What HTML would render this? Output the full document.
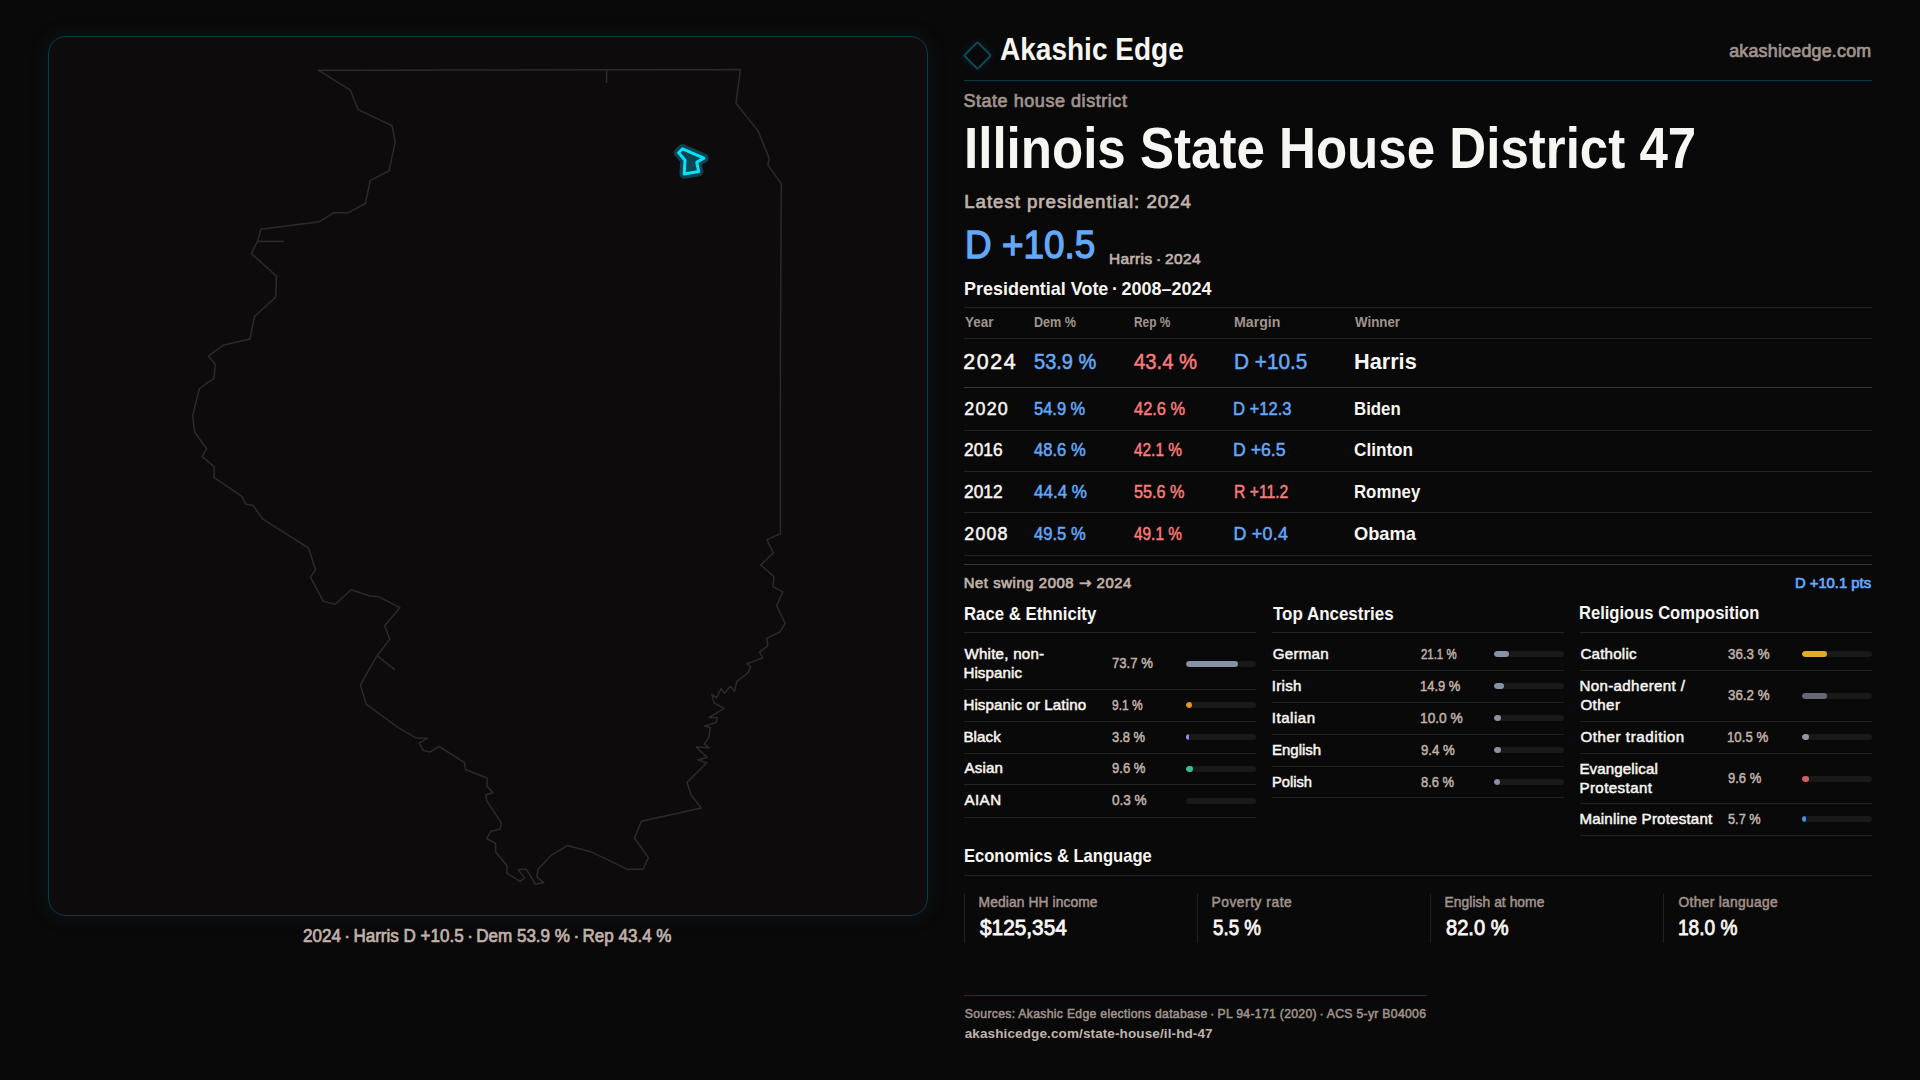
<!DOCTYPE html>
<html lang="en"><head><meta charset="utf-8"><title>Illinois State House District 47 · Akashic Edge</title>
<style>
html,body{margin:0;padding:0}
body{width:1920px;height:1080px;overflow:hidden;background:#0a0909;position:relative;font-family:"Liberation Sans",Arial,sans-serif}
.panel{position:absolute;left:48px;top:36px;width:880px;height:880px;box-sizing:border-box;border:1px solid #083c48;border-radius:18px;background:#0d0b0c;box-shadow:0 0 18px 2px rgba(10,70,90,0.18)}
.map{position:absolute;left:-1px;top:-1px;overflow:visible}
.t{position:absolute;margin:0;white-space:nowrap;transform-origin:0 0}
.l{position:absolute}
.bt{position:absolute;border-radius:3px;overflow:hidden}
.bf{height:100%;border-radius:3px}
.logo{position:absolute;left:966.85px;top:44.65px;width:17px;height:17px;border:2.2px solid #0c4b58;border-radius:2.5px;transform:rotate(45deg);box-shadow:0 0 8px rgba(10,90,110,0.25)}
</style></head><body>
<aside class="mapcol">
<div class="panel"><svg class="map" width="880" height="880" viewBox="48 36 880 880" aria-label="Map of Illinois with State House District 47 highlighted">
<g fill="none" stroke="#2e2a2a" stroke-width="1.5" stroke-linejoin="round"><polygon points="318.2,70.2 740.4,69.5 736.0,103.2 758.0,130.9 769.2,158.4 767.9,165.4 781.3,183.6 780.5,330 780.4,533.8 766.7,539.6 773.3,552.9 760.7,564.9 774.0,576.7 772.9,586.7 782.9,591.8 776.7,605.6 785.1,623.3 780.0,631.8 766.7,638.4 767.8,645.6 759.6,652.2 762.7,658.1 746.8,663.8 750.7,666.6 748.4,672.4 736.8,681.7 734.5,690.9 730.3,686.3 724.5,693.3 721.1,688.6 716.4,697.9 711.8,694.4 714.1,703.0 724.1,708.3 709.0,717.6 717.1,717.6 716.4,722.2 704.4,726.1 710.2,727.5 709.0,737.2 704.4,744.2 709.0,747.7 696.3,747.0 707.2,757.6 697.4,759.9 706.7,762.7 687.0,782.4 691.0,794.7 701.4,808.1 641.4,821.3 634.5,838.0 648.4,857.6 643.0,869.2 626.8,869.2 591.4,851.9 567.3,845.6 551.1,855.3 538.0,869.6 536.8,876.8 543.8,882.6 535.4,884.2 526.1,869.0 517.9,869.6 524.8,878.0 519.9,881.3 506.7,873.1 507.2,866.1 495.6,852.1 495.6,843.4 486.8,838.5 490.7,831.3 499.9,829.2 501.4,822.9 486.8,801.0 485.9,794.7 493.1,792.8 486.8,786.0 487.4,778.2 465.4,769.5 464.5,762.7 439.2,746.5 430.0,752.0 423.2,750.4 419.3,743.2 427.1,738.3 415.8,737.8 398.3,727.6 366.3,704.3 360.4,684.9 377.1,655.7 389.7,639.4 384.7,625.7 399.9,607.7 378.5,596.6 369.9,596.0 351.2,589.8 335.3,604.2 323.2,601.2 310.4,577.1 315.5,569.7 308.5,548.0 262.9,519.2 253.2,505.6 245.8,504.0 241.8,496.4 213.8,477.4 214.2,466.7 202.0,456.6 206.8,448.8 194.8,432.2 192.6,416.1 199.4,388.5 214.0,378.4 215.2,364.2 208.4,356.0 223.2,345.3 250.0,338.9 254.5,316.5 275.7,297.1 276.5,276.1 251.3,253.6 257.5,241.4 260.9,229.2 319.5,221.7 333.8,212.6 347.8,212.9 365.4,203.5 370.1,180.7 389.0,170.9 395.2,142.1 392.1,125.7 358.2,109.6 350.4,90.2"/><line x1="606.6" y1="70.0" x2="606.6" y2="83.2"/><line x1="257.5" y1="241.4" x2="284.3" y2="241.4"/><line x1="377.1" y1="655.7" x2="395.0" y2="669.9"/></g>
<polygon points="678.6,152.8 682.5,148.8 704.0,158.1 696.7,162.3 698.7,171.6 684.2,174.0 685.0,160.2" fill="#0c4452" stroke="#0c4452" stroke-width="9.5" stroke-linejoin="round" opacity="0.95"/>
<polygon points="678.6,152.8 682.5,148.8 704.0,158.1 696.7,162.3 698.7,171.6 684.2,174.0 685.0,160.2" fill="#0c4452" stroke="#08e2f8" stroke-width="3" stroke-linejoin="round"/>
</svg></div>
<div class="t" style="left:303.40px;top:928.00px;font-size:17.73px;line-height:17.73px;font-weight:400;color:#c0b2aa;transform:scaleX(0.9616);-webkit-text-stroke:0.7px currentColor;">2024 · Harris D +10.5 · Dem 53.9 % · Rep 43.4 %</div>
</aside>
<main class="info">
<header class="brand">
<div class="logo"></div>
<div class="l" style="left:964px;top:80px;width:908px;height:1px;background:#083a46"></div>
<div class="t" style="left:1000.33px;top:34.00px;font-size:30.52px;line-height:30.52px;font-weight:700;color:#f8f6f3;transform:scaleX(0.9184);">Akashic Edge</div>
<div class="t" style="left:1729.20px;top:43.00px;font-size:17.88px;line-height:17.88px;font-weight:400;color:#a0948e;letter-spacing:0.214px;-webkit-text-stroke:0.7px currentColor;">akashicedge.com</div>
</header>
<section class="hero">
<div class="t" style="left:963.40px;top:92.00px;font-size:18.02px;line-height:18.02px;font-weight:400;color:#a0948e;letter-spacing:0.542px;-webkit-text-stroke:0.7px currentColor;">State house district</div>
<h1 class="t" style="left:964.34px;top:120.00px;font-size:57.41px;line-height:57.41px;font-weight:700;color:#f8f6f3;transform:scaleX(0.8897);">Illinois State House District 47</h1>
<div class="t" style="left:964.20px;top:193.00px;font-size:18.75px;line-height:18.75px;font-weight:400;color:#c0b2aa;letter-spacing:0.933px;-webkit-text-stroke:0.7px currentColor;">Latest presidential: 2024</div>
<div class="t" style="left:965.01px;top:225.00px;font-size:39.10px;line-height:39.10px;font-weight:400;color:#63a9fb;transform:scaleX(0.9437);-webkit-text-stroke:1.30px currentColor;">D +10.5</div>
<div class="t" style="left:1109.00px;top:251.00px;font-size:15.41px;line-height:15.41px;font-weight:400;color:#c0b2aa;letter-spacing:0.400px;-webkit-text-stroke:0.7px currentColor;">Harris · 2024</div>
<h2 class="t" style="left:963.62px;top:280.00px;font-size:18.31px;line-height:18.31px;font-weight:700;color:#f8f6f3;transform:scaleX(0.9813);">Presidential Vote · 2008–2024</h2>
</section>
<section class="votes">
<div class="l" style="left:964px;top:307px;width:908px;height:1px;background:#242122"></div>
<div class="l" style="left:964px;top:338px;width:908px;height:1px;background:#242122"></div>
<div class="l" style="left:964px;top:387px;width:908px;height:1px;background:#3a3636"></div>
<div class="l" style="left:964px;top:430px;width:908px;height:1px;background:#242122"></div>
<div class="l" style="left:964px;top:471px;width:908px;height:1px;background:#242122"></div>
<div class="l" style="left:964px;top:512px;width:908px;height:1px;background:#242122"></div>
<div class="l" style="left:964px;top:555px;width:908px;height:1px;background:#242122"></div>
<div class="t" style="left:964.60px;top:315.00px;font-size:14.39px;line-height:14.39px;font-weight:700;color:#a0948e;transform:scaleX(0.9367);">Year</div>
<div class="t" style="left:1033.82px;top:315.00px;font-size:14.39px;line-height:14.39px;font-weight:700;color:#a0948e;transform:scaleX(0.8766);">Dem %</div>
<div class="t" style="left:1133.77px;top:315.00px;font-size:14.39px;line-height:14.39px;font-weight:700;color:#a0948e;transform:scaleX(0.8279);">Rep %</div>
<div class="t" style="left:1233.62px;top:315.00px;font-size:14.39px;line-height:14.39px;font-weight:700;color:#a0948e;transform:scaleX(0.9844);">Margin</div>
<div class="t" style="left:1354.70px;top:315.00px;font-size:14.39px;line-height:14.39px;font-weight:700;color:#a0948e;transform:scaleX(0.9265);">Winner</div>
<div class="t" style="left:963.30px;top:352.00px;font-size:21.37px;line-height:21.37px;font-weight:400;color:#f8f6f3;letter-spacing:1.633px;-webkit-text-stroke:0.5px currentColor;">2024</div>
<div class="t" style="left:1033.96px;top:352.00px;font-size:21.37px;line-height:21.37px;font-weight:400;color:#63a9fb;transform:scaleX(0.9369);-webkit-text-stroke:0.5px currentColor;">53.9 %</div>
<div class="t" style="left:1134.40px;top:352.00px;font-size:21.37px;line-height:21.37px;font-weight:400;color:#f77b7b;transform:scaleX(0.9485);-webkit-text-stroke:0.5px currentColor;">43.4 %</div>
<div class="t" style="left:1233.93px;top:352.00px;font-size:21.37px;line-height:21.37px;font-weight:400;color:#63a9fb;transform:scaleX(0.9730);-webkit-text-stroke:0.5px currentColor;">D +10.5</div>
<div class="t" style="left:1354.02px;top:351.00px;font-size:22.09px;line-height:22.09px;font-weight:700;color:#f8f6f3;transform:scaleX(0.9823);">Harris</div>
<div class="t" style="left:964.30px;top:401.00px;font-size:17.88px;line-height:17.88px;font-weight:400;color:#f8f6f3;letter-spacing:1.233px;-webkit-text-stroke:0.5px currentColor;">2020</div>
<div class="t" style="left:1034.30px;top:401.00px;font-size:17.88px;line-height:17.88px;font-weight:400;color:#63a9fb;transform:scaleX(0.9218);-webkit-text-stroke:0.5px currentColor;">54.9 %</div>
<div class="t" style="left:1134.40px;top:401.00px;font-size:17.88px;line-height:17.88px;font-weight:400;color:#f77b7b;transform:scaleX(0.9200);-webkit-text-stroke:0.5px currentColor;">42.6 %</div>
<div class="t" style="left:1233.47px;top:401.00px;font-size:17.88px;line-height:17.88px;font-weight:400;color:#63a9fb;transform:scaleX(0.9274);-webkit-text-stroke:0.5px currentColor;">D +12.3</div>
<div class="t" style="left:1353.60px;top:400.00px;font-size:18.60px;line-height:18.60px;font-weight:700;color:#f8f6f3;transform:scaleX(0.9040);">Biden</div>
<div class="t" style="left:964.30px;top:442.00px;font-size:17.88px;line-height:17.88px;font-weight:400;color:#f8f6f3;transform:scaleX(0.9692);-webkit-text-stroke:0.5px currentColor;">2016</div>
<div class="t" style="left:1034.30px;top:442.00px;font-size:17.88px;line-height:17.88px;font-weight:400;color:#63a9fb;transform:scaleX(0.9291);-webkit-text-stroke:0.5px currentColor;">48.6 %</div>
<div class="t" style="left:1134.40px;top:442.00px;font-size:17.88px;line-height:17.88px;font-weight:400;color:#f77b7b;transform:scaleX(0.8618);-webkit-text-stroke:0.5px currentColor;">42.1 %</div>
<div class="t" style="left:1233.41px;top:442.00px;font-size:17.88px;line-height:17.88px;font-weight:400;color:#63a9fb;transform:scaleX(0.9904);-webkit-text-stroke:0.5px currentColor;">D +6.5</div>
<div class="t" style="left:1353.58px;top:441.00px;font-size:18.60px;line-height:18.60px;font-weight:700;color:#f8f6f3;transform:scaleX(0.9226);">Clinton</div>
<div class="t" style="left:964.30px;top:484.00px;font-size:17.88px;line-height:17.88px;font-weight:400;color:#f8f6f3;transform:scaleX(0.9692);-webkit-text-stroke:0.5px currentColor;">2012</div>
<div class="t" style="left:1034.30px;top:484.00px;font-size:17.88px;line-height:17.88px;font-weight:400;color:#63a9fb;transform:scaleX(0.9527);-webkit-text-stroke:0.5px currentColor;">44.4 %</div>
<div class="t" style="left:1134.40px;top:484.00px;font-size:17.88px;line-height:17.88px;font-weight:400;color:#f77b7b;transform:scaleX(0.9091);-webkit-text-stroke:0.5px currentColor;">55.6 %</div>
<div class="t" style="left:1233.52px;top:484.00px;font-size:17.88px;line-height:17.88px;font-weight:400;color:#f77b7b;transform:scaleX(0.8800);-webkit-text-stroke:0.5px currentColor;">R +11.2</div>
<div class="t" style="left:1353.60px;top:483.00px;font-size:18.60px;line-height:18.60px;font-weight:700;color:#f8f6f3;transform:scaleX(0.9028);">Romney</div>
<div class="t" style="left:964.30px;top:526.00px;font-size:17.88px;line-height:17.88px;font-weight:400;color:#f8f6f3;letter-spacing:1.167px;-webkit-text-stroke:0.5px currentColor;">2008</div>
<div class="t" style="left:1034.30px;top:526.00px;font-size:17.88px;line-height:17.88px;font-weight:400;color:#63a9fb;transform:scaleX(0.9291);-webkit-text-stroke:0.5px currentColor;">49.5 %</div>
<div class="t" style="left:1134.40px;top:526.00px;font-size:17.88px;line-height:17.88px;font-weight:400;color:#f77b7b;transform:scaleX(0.8618);-webkit-text-stroke:0.5px currentColor;">49.1 %</div>
<div class="t" style="left:1233.40px;top:526.00px;font-size:17.88px;line-height:17.88px;font-weight:400;color:#63a9fb;letter-spacing:0.280px;-webkit-text-stroke:0.5px currentColor;">D +0.4</div>
<div class="t" style="left:1353.52px;top:525.00px;font-size:18.60px;line-height:18.60px;font-weight:700;color:#f8f6f3;transform:scaleX(0.9823);">Obama</div>
</section>
<div class="swing">
<div class="l" style="left:964px;top:564px;width:908px;height:1px;background:#3a3636"></div>
<div class="t" style="left:963.70px;top:576.00px;font-size:14.83px;line-height:14.83px;font-weight:400;color:#c0b2aa;letter-spacing:0.590px;-webkit-text-stroke:0.7px currentColor;">Net swing 2008 <span style="font-family:'DejaVu Sans'">→</span> 2024</div>
<div class="t" style="left:1794.90px;top:576.00px;font-size:14.83px;line-height:14.83px;font-weight:400;color:#63a9fb;-webkit-text-stroke:0.7px currentColor;">D +10.1 pts</div>
</div>
<section class="col race">
<div class="l" style="left:964px;top:632px;width:292px;height:1px;background:#242122"></div>
<div class="l" style="left:964px;top:689px;width:292px;height:1px;background:#242122"></div>
<div class="l" style="left:964px;top:721px;width:292px;height:1px;background:#242122"></div>
<div class="l" style="left:964px;top:753px;width:292px;height:1px;background:#242122"></div>
<div class="l" style="left:964px;top:784px;width:292px;height:1px;background:#242122"></div>
<div class="l" style="left:964px;top:817px;width:292px;height:1px;background:#242122"></div>
<div class="bt" style="left:1186px;top:661.0px;width:70px;height:6px;background:#1a191a"><div class="bf" style="width:51.59px;background:#8792a5"></div></div>
<div class="bt" style="left:1186px;top:702.0px;width:70px;height:6px;background:#1a191a"><div class="bf" style="width:6.37px;background:#e6961e"></div></div>
<div class="bt" style="left:1186px;top:734.0px;width:70px;height:6px;background:#1a191a"><div class="bf" style="width:2.66px;background:#a082f0"></div></div>
<div class="bt" style="left:1186px;top:766.0px;width:70px;height:6px;background:#1a191a"><div class="bf" style="width:6.72px;background:#32c391"></div></div>
<div class="bt" style="left:1186px;top:798.0px;width:70px;height:6px;background:#1a191a"></div>
<h2 class="t" style="left:963.78px;top:605.00px;font-size:18.31px;line-height:18.31px;font-weight:700;color:#f8f6f3;transform:scaleX(0.9161);">Race &amp; Ethnicity</h2>
<div class="t" style="left:964.40px;top:646.00px;font-size:15.12px;line-height:15.12px;font-weight:400;color:#f8f6f3;letter-spacing:0.250px;-webkit-text-stroke:0.5px currentColor;">White, non-</div>
<div class="t" style="left:963.40px;top:665.00px;font-size:15.12px;line-height:15.12px;font-weight:400;color:#f8f6f3;letter-spacing:0.086px;-webkit-text-stroke:0.5px currentColor;">Hispanic</div>
<div class="t" style="left:963.40px;top:697.00px;font-size:15.12px;line-height:15.12px;font-weight:400;color:#f8f6f3;letter-spacing:0.100px;-webkit-text-stroke:0.5px currentColor;">Hispanic or Latino</div>
<div class="t" style="left:963.40px;top:729.00px;font-size:15.12px;line-height:15.12px;font-weight:400;color:#f8f6f3;letter-spacing:0.125px;-webkit-text-stroke:0.5px currentColor;">Black</div>
<div class="t" style="left:964.40px;top:760.00px;font-size:15.12px;line-height:15.12px;font-weight:400;color:#f8f6f3;letter-spacing:0.200px;-webkit-text-stroke:0.5px currentColor;">Asian</div>
<div class="t" style="left:964.40px;top:792.00px;font-size:15.12px;line-height:15.12px;font-weight:400;color:#f8f6f3;letter-spacing:0.467px;-webkit-text-stroke:0.5px currentColor;">AIAN</div>
<div class="t" style="left:1112.00px;top:655.00px;font-size:15.12px;line-height:15.12px;font-weight:400;color:#c0b2aa;transform:scaleX(0.8681);-webkit-text-stroke:0.5px currentColor;">73.7 %</div>
<div class="t" style="left:1112.00px;top:697.00px;font-size:15.12px;line-height:15.12px;font-weight:400;color:#c0b2aa;transform:scaleX(0.7949);-webkit-text-stroke:0.5px currentColor;">9.1 %</div>
<div class="t" style="left:1112.00px;top:729.00px;font-size:15.12px;line-height:15.12px;font-weight:400;color:#c0b2aa;transform:scaleX(0.8564);-webkit-text-stroke:0.5px currentColor;">3.8 %</div>
<div class="t" style="left:1112.00px;top:760.00px;font-size:15.12px;line-height:15.12px;font-weight:400;color:#c0b2aa;transform:scaleX(0.8641);-webkit-text-stroke:0.5px currentColor;">9.6 %</div>
<div class="t" style="left:1112.00px;top:792.00px;font-size:15.12px;line-height:15.12px;font-weight:400;color:#c0b2aa;transform:scaleX(0.8974);-webkit-text-stroke:0.5px currentColor;">0.3 %</div>
</section>
<section class="col anc">
<div class="l" style="left:1272px;top:632px;width:292px;height:1px;background:#242122"></div>
<div class="l" style="left:1272px;top:670px;width:292px;height:1px;background:#242122"></div>
<div class="l" style="left:1272px;top:702px;width:292px;height:1px;background:#242122"></div>
<div class="l" style="left:1272px;top:734px;width:292px;height:1px;background:#242122"></div>
<div class="l" style="left:1272px;top:766px;width:292px;height:1px;background:#242122"></div>
<div class="l" style="left:1272px;top:797px;width:292px;height:1px;background:#242122"></div>
<div class="bt" style="left:1494px;top:651.0px;width:70px;height:6px;background:#1a191a"><div class="bf" style="width:14.77px;background:#8792a5"></div></div>
<div class="bt" style="left:1494px;top:683.0px;width:70px;height:6px;background:#1a191a"><div class="bf" style="width:10.43px;background:#8792a5"></div></div>
<div class="bt" style="left:1494px;top:715.0px;width:70px;height:6px;background:#1a191a"><div class="bf" style="width:7.00px;background:#8792a5"></div></div>
<div class="bt" style="left:1494px;top:747.0px;width:70px;height:6px;background:#1a191a"><div class="bf" style="width:6.58px;background:#8792a5"></div></div>
<div class="bt" style="left:1494px;top:779.0px;width:70px;height:6px;background:#1a191a"><div class="bf" style="width:6.02px;background:#8792a5"></div></div>
<h2 class="t" style="left:1272.70px;top:605.00px;font-size:18.31px;line-height:18.31px;font-weight:700;color:#f8f6f3;transform:scaleX(0.9269);">Top Ancestries</h2>
<div class="t" style="left:1272.70px;top:646.00px;font-size:15.12px;line-height:15.12px;font-weight:400;color:#f8f6f3;letter-spacing:0.280px;-webkit-text-stroke:0.5px currentColor;">German</div>
<div class="t" style="left:1271.70px;top:678.00px;font-size:15.12px;line-height:15.12px;font-weight:400;color:#f8f6f3;letter-spacing:0.300px;-webkit-text-stroke:0.5px currentColor;">Irish</div>
<div class="t" style="left:1271.70px;top:710.00px;font-size:15.12px;line-height:15.12px;font-weight:400;color:#f8f6f3;letter-spacing:0.533px;-webkit-text-stroke:0.5px currentColor;">Italian</div>
<div class="t" style="left:1271.71px;top:742.00px;font-size:15.12px;line-height:15.12px;font-weight:400;color:#f8f6f3;transform:scaleX(0.9917);-webkit-text-stroke:0.5px currentColor;">English</div>
<div class="t" style="left:1271.73px;top:774.00px;font-size:15.12px;line-height:15.12px;font-weight:400;color:#f8f6f3;transform:scaleX(0.9725);-webkit-text-stroke:0.5px currentColor;">Polish</div>
<div class="t" style="left:1420.50px;top:646.00px;font-size:15.12px;line-height:15.12px;font-weight:400;color:#c0b2aa;transform:scaleX(0.7553);-webkit-text-stroke:0.5px currentColor;">21.1 %</div>
<div class="t" style="left:1419.64px;top:678.00px;font-size:15.12px;line-height:15.12px;font-weight:400;color:#c0b2aa;transform:scaleX(0.8565);-webkit-text-stroke:0.5px currentColor;">14.9 %</div>
<div class="t" style="left:1419.59px;top:710.00px;font-size:15.12px;line-height:15.12px;font-weight:400;color:#c0b2aa;transform:scaleX(0.9087);-webkit-text-stroke:0.5px currentColor;">10.0 %</div>
<div class="t" style="left:1420.50px;top:742.00px;font-size:15.12px;line-height:15.12px;font-weight:400;color:#c0b2aa;transform:scaleX(0.8718);-webkit-text-stroke:0.5px currentColor;">9.4 %</div>
<div class="t" style="left:1420.50px;top:774.00px;font-size:15.12px;line-height:15.12px;font-weight:400;color:#c0b2aa;transform:scaleX(0.8564);-webkit-text-stroke:0.5px currentColor;">8.6 %</div>
</section>
<section class="col rel">
<div class="l" style="left:1580px;top:632px;width:292px;height:1px;background:#242122"></div>
<div class="l" style="left:1580px;top:670px;width:292px;height:1px;background:#242122"></div>
<div class="l" style="left:1580px;top:721px;width:292px;height:1px;background:#242122"></div>
<div class="l" style="left:1580px;top:753px;width:292px;height:1px;background:#242122"></div>
<div class="l" style="left:1580px;top:803px;width:292px;height:1px;background:#242122"></div>
<div class="l" style="left:1580px;top:835px;width:292px;height:1px;background:#242122"></div>
<div class="bt" style="left:1802px;top:651.0px;width:70px;height:6px;background:#1a191a"><div class="bf" style="width:25.41px;background:#e1ac28"></div></div>
<div class="bt" style="left:1802px;top:693.0px;width:70px;height:6px;background:#1a191a"><div class="bf" style="width:25.34px;background:#646976"></div></div>
<div class="bt" style="left:1802px;top:734.0px;width:70px;height:6px;background:#1a191a"><div class="bf" style="width:7.35px;background:#9698a0"></div></div>
<div class="bt" style="left:1802px;top:776.0px;width:70px;height:6px;background:#1a191a"><div class="bf" style="width:6.72px;background:#d75f5f"></div></div>
<div class="bt" style="left:1802px;top:816.0px;width:70px;height:6px;background:#1a191a"><div class="bf" style="width:3.99px;background:#4a90e2"></div></div>
<h2 class="t" style="left:1579.49px;top:604.00px;font-size:18.31px;line-height:18.31px;font-weight:700;color:#f8f6f3;transform:scaleX(0.9051);">Religious Composition</h2>
<div class="t" style="left:1580.40px;top:646.00px;font-size:15.12px;line-height:15.12px;font-weight:400;color:#f8f6f3;letter-spacing:0.229px;-webkit-text-stroke:0.5px currentColor;">Catholic</div>
<div class="t" style="left:1579.40px;top:678.00px;font-size:15.12px;line-height:15.12px;font-weight:400;color:#f8f6f3;letter-spacing:0.362px;-webkit-text-stroke:0.5px currentColor;">Non-adherent /</div>
<div class="t" style="left:1580.40px;top:697.00px;font-size:15.12px;line-height:15.12px;font-weight:400;color:#f8f6f3;letter-spacing:0.450px;-webkit-text-stroke:0.5px currentColor;">Other</div>
<div class="t" style="left:1580.40px;top:729.00px;font-size:15.12px;line-height:15.12px;font-weight:400;color:#f8f6f3;letter-spacing:0.579px;-webkit-text-stroke:0.5px currentColor;">Other tradition</div>
<div class="t" style="left:1579.40px;top:761.00px;font-size:15.12px;line-height:15.12px;font-weight:400;color:#f8f6f3;letter-spacing:0.110px;-webkit-text-stroke:0.5px currentColor;">Evangelical</div>
<div class="t" style="left:1579.40px;top:780.00px;font-size:15.12px;line-height:15.12px;font-weight:400;color:#f8f6f3;letter-spacing:0.422px;-webkit-text-stroke:0.5px currentColor;">Protestant</div>
<div class="t" style="left:1579.40px;top:811.00px;font-size:15.12px;line-height:15.12px;font-weight:400;color:#f8f6f3;letter-spacing:0.194px;-webkit-text-stroke:0.5px currentColor;">Mainline Protestant</div>
<div class="t" style="left:1728.10px;top:646.00px;font-size:15.12px;line-height:15.12px;font-weight:400;color:#c0b2aa;transform:scaleX(0.8830);-webkit-text-stroke:0.5px currentColor;">36.3 %</div>
<div class="t" style="left:1728.10px;top:687.00px;font-size:15.12px;line-height:15.12px;font-weight:400;color:#c0b2aa;transform:scaleX(0.8830);-webkit-text-stroke:0.5px currentColor;">36.2 %</div>
<div class="t" style="left:1727.22px;top:729.00px;font-size:15.12px;line-height:15.12px;font-weight:400;color:#c0b2aa;transform:scaleX(0.8761);-webkit-text-stroke:0.5px currentColor;">10.5 %</div>
<div class="t" style="left:1728.10px;top:770.00px;font-size:15.12px;line-height:15.12px;font-weight:400;color:#c0b2aa;transform:scaleX(0.8615);-webkit-text-stroke:0.5px currentColor;">9.6 %</div>
<div class="t" style="left:1728.10px;top:811.00px;font-size:15.12px;line-height:15.12px;font-weight:400;color:#c0b2aa;transform:scaleX(0.8436);-webkit-text-stroke:0.5px currentColor;">5.7 %</div>
</section>
<section class="econ">
<div class="l" style="left:964px;top:875px;width:908px;height:1px;background:#242122"></div>
<div class="l" style="left:964px;top:894px;width:1px;height:49px;background:#242122"></div>
<div class="l" style="left:1197px;top:894px;width:1px;height:49px;background:#242122"></div>
<div class="l" style="left:1430px;top:894px;width:1px;height:49px;background:#242122"></div>
<div class="l" style="left:1663px;top:894px;width:1px;height:49px;background:#242122"></div>
<h2 class="t" style="left:963.58px;top:847.00px;font-size:18.02px;line-height:18.02px;font-weight:700;color:#f8f6f3;transform:scaleX(0.9192);">Economics &amp; Language</h2>
<div class="t" style="left:978.60px;top:896.00px;font-size:13.81px;line-height:13.81px;font-weight:400;color:#a0948e;letter-spacing:0.107px;-webkit-text-stroke:0.5px currentColor;">Median HH income</div>
<div class="t" style="left:1211.50px;top:896.00px;font-size:13.81px;line-height:13.81px;font-weight:400;color:#a0948e;letter-spacing:0.527px;-webkit-text-stroke:0.5px currentColor;">Poverty rate</div>
<div class="t" style="left:1444.60px;top:896.00px;font-size:13.81px;line-height:13.81px;font-weight:400;color:#a0948e;letter-spacing:0.057px;-webkit-text-stroke:0.5px currentColor;">English at home</div>
<div class="t" style="left:1678.50px;top:896.00px;font-size:13.81px;line-height:13.81px;font-weight:400;color:#a0948e;letter-spacing:0.308px;-webkit-text-stroke:0.5px currentColor;">Other language</div>
<div class="t" style="left:980.00px;top:918.00px;font-size:21.51px;line-height:21.51px;font-weight:400;color:#f8f6f3;transform:scaleX(0.9678);-webkit-text-stroke:0.80px currentColor;">$125,354</div>
<div class="t" style="left:1212.90px;top:918.00px;font-size:21.51px;line-height:21.51px;font-weight:400;color:#f8f6f3;transform:scaleX(0.8727);-webkit-text-stroke:0.80px currentColor;">5.5 %</div>
<div class="t" style="left:1445.60px;top:918.00px;font-size:21.51px;line-height:21.51px;font-weight:400;color:#f8f6f3;transform:scaleX(0.9343);-webkit-text-stroke:0.80px currentColor;">82.0 %</div>
<div class="t" style="left:1678.11px;top:918.00px;font-size:21.51px;line-height:21.51px;font-weight:400;color:#f8f6f3;transform:scaleX(0.8864);-webkit-text-stroke:0.80px currentColor;">18.0 %</div>
</section>
<footer class="src">
<div class="l" style="left:964px;top:995px;width:463px;height:1px;background:#083a46"></div>
<div class="t" style="left:964.75px;top:1008.00px;font-size:12.21px;line-height:12.21px;font-weight:400;color:#a0948e;letter-spacing:0.305px;-webkit-text-stroke:0.5px currentColor;">Sources: Akashic Edge elections database · PL 94-171 (2020) · ACS 5-yr B04006</div>
<div class="t" style="left:964.75px;top:1027.00px;font-size:13.52px;line-height:13.52px;font-weight:700;color:#c0b2aa;letter-spacing:0.107px;">akashicedge.com/state-house/il-hd-47</div>
</footer>
</main>
</body></html>
